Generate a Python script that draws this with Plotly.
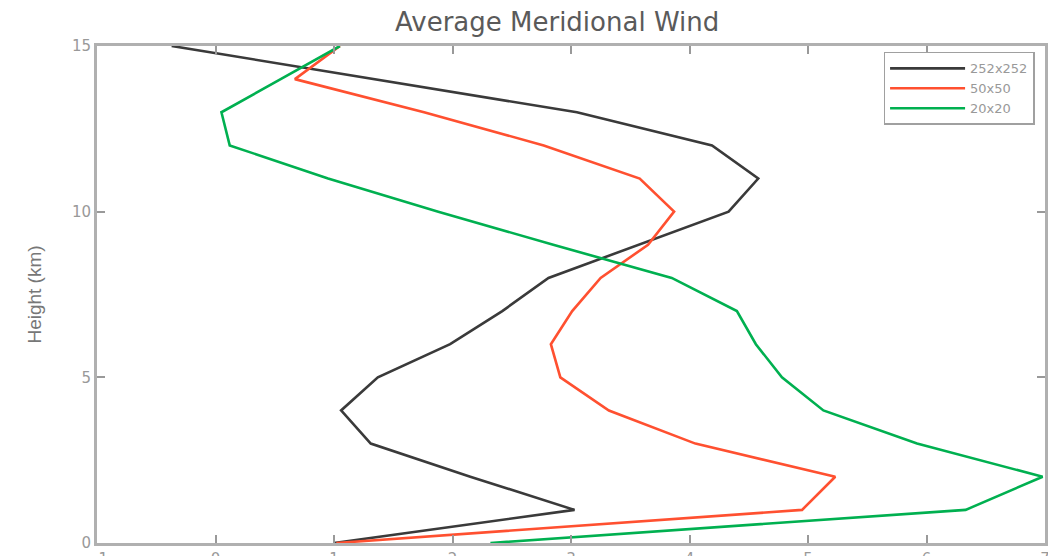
import plotly.graph_objects as go

heights = [0, 1, 2, 3, 4, 5, 6, 7, 8, 9, 10, 11, 12, 13, 14, 15]
wind_252 = [1.0, 3.03, 2.15, 1.31, 1.06, 1.37, 1.98, 2.42, 2.81, 3.57, 4.33, 4.58, 4.19, 3.05, 1.34, -0.37]
wind_50 = [1.02, 4.95, 5.23, 4.05, 3.32, 2.91, 2.83, 3.01, 3.25, 3.65, 3.87, 3.58, 2.77, 1.76, 0.67, 1.05]
wind_20 = [2.32, 6.33, 6.98, 5.92, 5.13, 4.78, 4.56, 4.40, 3.85, 2.85, 1.88, 0.95, 0.12, 0.05, 0.55, 1.05]
series_names = ["252x252", "50x50", "20x20"]
series_colors = ["#3a3a3a", "#ff5030", "#00b050"]
x_ticks = [-1, 0, 1, 2, 3, 4, 5, 6, 7]
y_ticks = [0, 5, 10, 15]

fig = go.Figure()
for name, vals, col in zip(series_names, [wind_252, wind_50, wind_20], series_colors):
    fig.add_trace(go.Scatter(x=vals, y=heights, mode="lines", name=name,
                             line=dict(color=col, width=2.6)))

axis_common = dict(showgrid=False, zeroline=False, showline=True, linecolor="#b0b0b0",
                   linewidth=3, mirror="ticks", ticks="inside", ticklen=8,
                   tickcolor="#999999", tickwidth=1.5, automargin=False,
                   tickfont=dict(family="DejaVu Sans", size=15, color="#999999"))

fig.update_layout(
    width=1056, height=556,
    margin=dict(l=89, r=19, t=38, b=21),
    paper_bgcolor="white", plot_bgcolor="white",
    title=dict(text="Average Meridional Wind", x=0.52, xanchor="center", y=0.975, yanchor="middle",
               font=dict(family="DejaVu Sans", size=26, color="#5a5a5a")),
    xaxis=dict(range=[-1, 7], tickvals=x_ticks, **axis_common),
    yaxis=dict(range=[0, 15], tickvals=y_ticks,
               title=dict(text="Height (km)", standoff=26,
                          font=dict(family="Liberation Sans, Arial", size=19, color="#777777")),
               **axis_common),
    legend=dict(x=0.989, y=0.988, xanchor="right", yanchor="top",
                bgcolor="white", bordercolor="#a0a0a0", borderwidth=1.5,
                font=dict(family="DejaVu Sans", size=13, color="#999999"),
                itemwidth=75, tracegroupgap=0, entrywidth=100, entrywidthmode="pixels"),
    showlegend=True,
)

fig.write_html("out.html")
